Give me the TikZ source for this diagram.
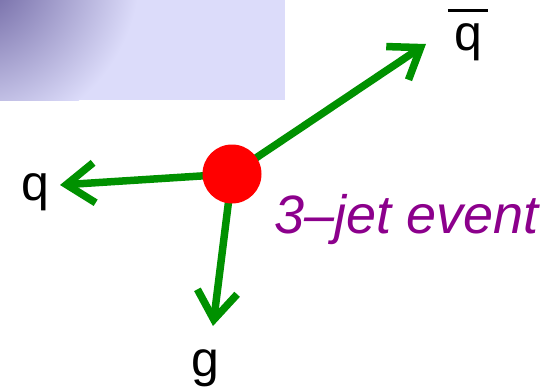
\documentclass[tikz,border=0pt]{standalone}
\usepackage{fontspec}
\setmainfont{Liberation Sans}
\usetikzlibrary{arrows.meta}
\definecolor{jetgreen}{RGB}{0,145,0}
\definecolor{jetpurple}{RGB}{140,0,140}
\definecolor{panel}{RGB}{220,220,250}
\definecolor{panelshade}{RGB}{95,85,150}

\begin{document}
\begin{tikzpicture}[x=1pt,y=-1pt,
    jet/.style={jetgreen,line width=7.5pt,-{Straight Barb[length=28pt,width=40pt]}},
    blob/.style={circle,fill=red,minimum size=59pt,inner sep=0pt},
    parton/.style={inner sep=0pt,anchor=base,font=\fontsize{50}{58}\selectfont}]
  \useasboundingbox (0,0) rectangle (558,388);
  % background panel, top left
  \begin{scope}
    \clip (0,0) rectangle (285,100);
    \fill[panel] (0,0) rectangle (285,100);
    \shade[inner color=panelshade,outer color=panel] (-30,-30) circle (170);
  \end{scope}
  \coordinate (vtx) at (232,174);
  \coordinate (tq) at (60,185);
  \coordinate (tqb) at (426,44);
  \coordinate (tg) at (213,326);
  \draw[jet] (vtx) -- (tq);
  \draw[jet] (vtx) -- (tqb);
  \draw[jet] (vtx) -- (tg);
  \node[blob] (dot) at (vtx) {};
  \node[parton] (q) at (35,200) {q};
  \node[parton] (qb) at (468,50) {q};
  \draw[line width=3pt] ([xshift=-6pt,yshift=12pt]qb.north west) -- ([xshift=6pt,yshift=12pt]qb.north east);
  \node[parton] (g) at (205,376) {g};
  \node[jetpurple,inner sep=0pt,anchor=base west,font=\fontsize{54}{62}\selectfont\itshape] (lbl) at (274,233) {3–jet event};
\end{tikzpicture}
\end{document}
